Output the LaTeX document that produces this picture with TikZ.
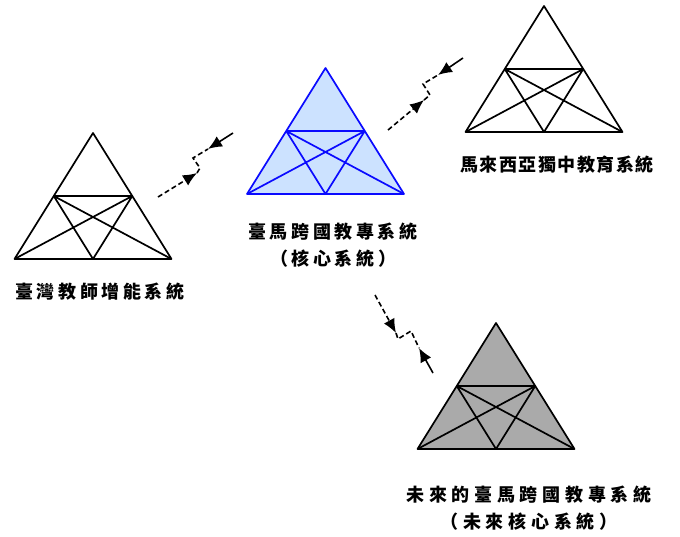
\documentclass[tikz,border=0pt]{standalone}
\usepackage{fontspec}
\newfontfamily\cjk{Noto Sans CJK TC}[LetterSpace=20]
\usetikzlibrary{arrows.meta}
\definecolor{lightblue}{RGB}{204,226,255}
\definecolor{coreblue}{RGB}{10,10,255}
\definecolor{futgray}{RGB}{170,170,170}
\tikzset{
  trip/.pic={
    \coordinate (-a) at (0,0);
    \coordinate (-l) at (-78.5,126);
    \coordinate (-r) at (78.5,126);
    \coordinate (-ml) at (-39.25,63);
    \coordinate (-mr) at (39.25,63);
    \coordinate (-mb) at (0,126);
    \path[pic actions] (-a) -- (-l) -- (-r) -- cycle;
    \path[pic actions, fill=none] (-ml) -- (-mr) (-ml) -- (-r) (-mr) -- (-l) (-ml) -- (-mb) -- (-mr);
  },
  triline/.style={line width=1.7pt, line join=round},
  lbl/.style={font=\cjk\bfseries\fontsize{18}{27}\selectfont, align=center, inner sep=0pt},
  dsh/.style={line width=1.6pt, dash pattern=on 5pt off 3pt},
  arr/.style={-{Latex[length=14pt,width=12pt]}},
  sol/.style={line width=1.6pt}
}
\begin{document}
\begin{tikzpicture}[x=1pt,y=-1pt]
\useasboundingbox (0,0) rectangle (680,536);
% triangles
\pic[draw=black, triline] (L) at (93,133) {trip};
\pic[draw=coreblue, fill=lightblue, triline] (C) at (325.5,68) {trip};
\pic[draw=black, triline] (R) at (544,6) {trip};
\pic[draw=black, fill=futgray, triline] (F) at (496,323) {trip};
% labels
\node[lbl] (tL) at (100,292) {臺灣教師增能系統};
\node[lbl] (tC) at (333,245) {臺馬跨國教專系統\\（核心系統）};
\node[lbl] (tR) at (557,165) {\addfontfeature{LetterSpace=8}馬來西亞獨中教育系統};
\node[lbl] (tF) at (529,508) {\addfontfeature{LetterSpace=26}未來的臺馬跨國教專系統\\\addfontfeature{LetterSpace=26}（未來核心系統）};
% arrow left-centre
\coordinate (a1) at (158,197); \coordinate (b1) at (197,173);
\coordinate (j1a) at (200,168); \coordinate (j1b) at (193,158);
\coordinate (d1) at (208,149); \coordinate (e1) at (233,133);
\draw[dsh, arr] (a1) -- (b1);
\draw[dsh] (b1) -- (j1a) -- (j1b) -- (d1);
\draw[sol, arr] (e1) -- (d1);
% arrow centre-right
\coordinate (a2) at (388,130); \coordinate (b2) at (424,100);
\coordinate (j2a) at (430,95); \coordinate (j2b) at (423,84);
\coordinate (d2) at (438,75); \coordinate (e2) at (463,58);
\draw[dsh, arr] (a2) -- (b2);
\draw[dsh] (b2) -- (j2a) -- (j2b) -- (d2);
\draw[sol, arr] (e2) -- (d2);
% arrow centre-future
\coordinate (a3) at (375,295); \coordinate (b3) at (396,333);
\coordinate (j3a) at (398,339); \coordinate (j3b) at (411,331);
\coordinate (d3) at (419,348); \coordinate (e3) at (433,373);
\draw[dsh, arr] (a3) -- (b3);
\draw[dsh] (b3) -- (j3a) -- (j3b) -- (d3);
\draw[sol, arr] (e3) -- (d3);
\end{tikzpicture}
\end{document}
